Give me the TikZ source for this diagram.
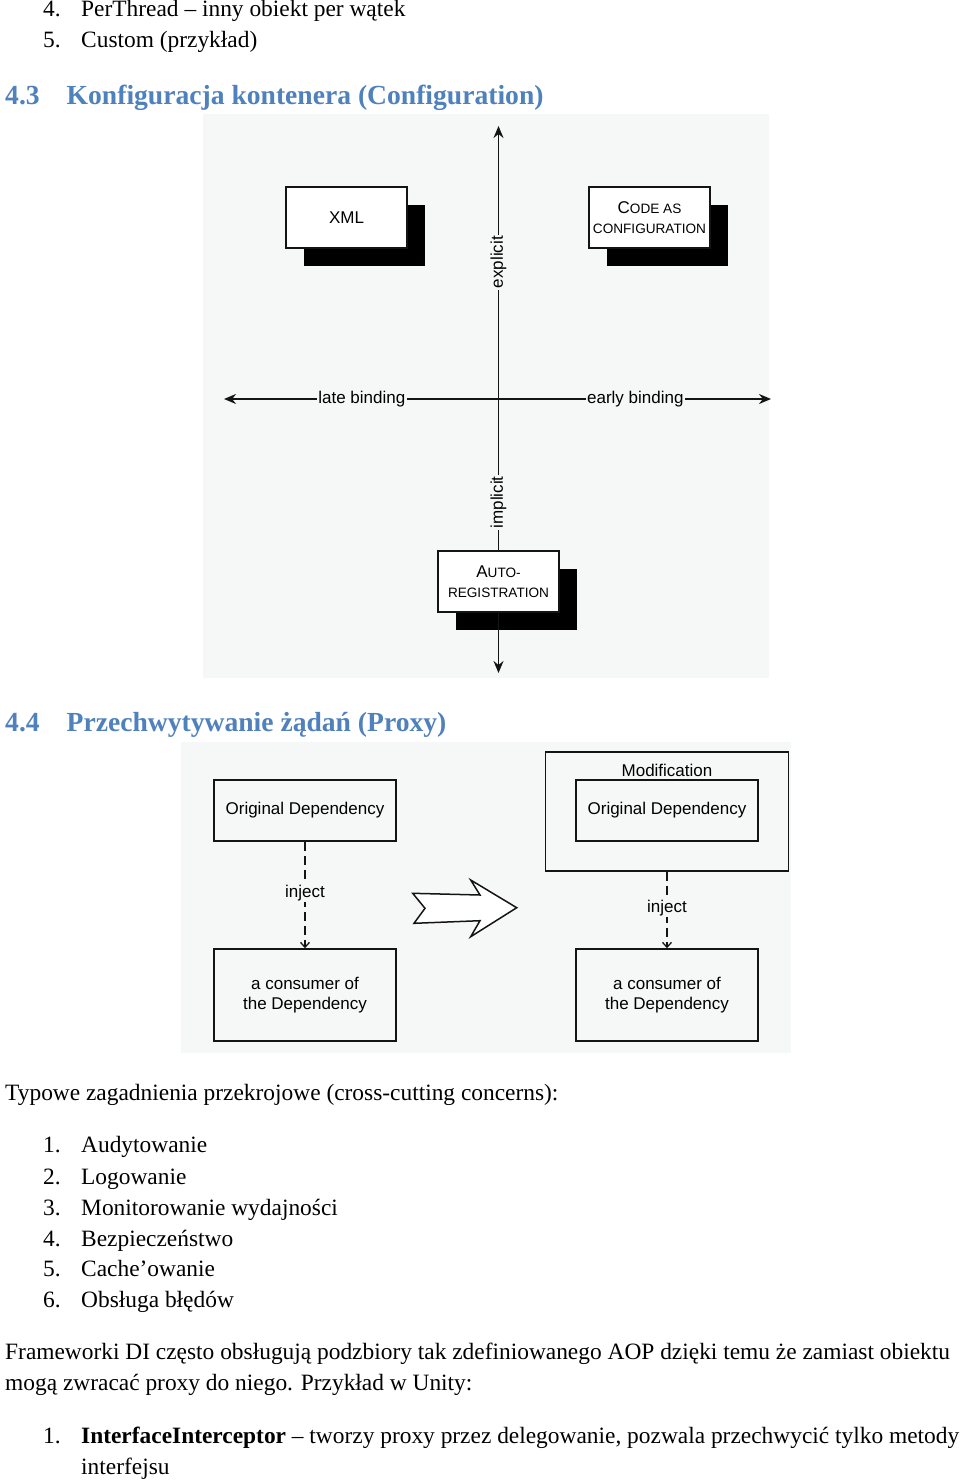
\documentclass[tikz,border=0pt]{standalone}
\usepackage{fontspec}
\setmainfont{Liberation Serif}
\newfontfamily\arial{Liberation Sans}
\usetikzlibrary{shadows,arrows.meta}
\definecolor{bg}{RGB}{246,248,247}
\definecolor{head}{RGB}{79,129,189}
\definecolor{ink}{RGB}{20,20,20}
\begin{document}
\begin{tikzpicture}[x=1pt,y=-1pt,
 body/.style={anchor=base west, inner sep=0pt, font=\fontsize{23.4}{31}\selectfont},
 heading/.style={anchor=base west, inner sep=0pt, text=head, font=\bfseries\fontsize{27.6}{32}\selectfont},
 dtext/.style={font=\arial\fontsize{17}{20}\selectfont},
 sctext/.style={font=\arial\fontsize{13.6}{20}\selectfont},
 sbox/.style={draw=ink, line width=1.6pt, fill=white, minimum width=121pt, minimum height=61pt, inner sep=0pt, align=center,
   drop shadow={shadow xshift=18pt, shadow yshift=-18pt, fill=black, opacity=1}},
 pbox/.style={draw=ink, line width=1.5pt, fill=bg, minimum width=182pt, inner sep=0pt, align=center, dtext},
 axis/.style={draw=ink, line width=1.8pt},
 tip/.style={-{Stealth[length=12pt,width=10pt]}},
 lbl/.style={fill=bg, inner sep=1.5pt, dtext},
 inj/.style={draw=ink, line width=1.3pt, dash pattern=on 9pt off 5pt, -{Straight Barb[length=5pt,width=9pt]}}
]
\useasboundingbox (0,0) rectangle (960,1482);
\fill[white] (0,0) rectangle (960,1482);

% top list
\node[body] (n4) at (43,16.7) {4.};
\node[body] (t4) at (81,16.7) {PerThread – inny obiekt per wątek};
\node[body] (n5) at (43,47.7) {5.};
\node[body] (t5) at (81,47.7) {Custom (przykład)};

\node[heading] (h43n) at (5,105) {4.3};
\node[heading] (h43) at (66.5,105) {Konfiguracja kontenera (Configuration)};

% diagram 1
\fill[bg] (203,114) rectangle (769,678);
\coordinate (vt) at (498.5,126);
\coordinate (vb) at (498.5,673);
\coordinate (hl) at (224,399);
\coordinate (hr) at (771,399);
\node[sbox, dtext] (xml) at (346.5,217.5) {XML};
\node[sbox, sctext] (code) at (649.5,217.5) {{\fontsize{17}{20}\selectfont C}ODE AS\\CONFIGURATION};
\node[sbox, sctext] (auto) at (498.5,581.5) {{\fontsize{17}{20}\selectfont A}UTO-\\REGISTRATION};
\draw[axis, tip] (auto.north) -- node[lbl, pos=0.113, rotate=90] (impl) {implicit}
  node[lbl, pos=0.679, rotate=90] (expl) {explicit} (vt);
\draw[axis, tip] (auto.south) -- (vb);
\draw[axis, {Stealth[length=12pt,width=10pt]}-{Stealth[length=12pt,width=10pt]}] (hl) --
  node[lbl, pos=0.252] (late) {late binding}
  node[lbl, pos=0.752] (early) {early binding} (hr);

\node[heading] (h44n) at (5,731.7) {4.4};
\node[heading] (h44) at (66.5,731.7) {Przechwytywanie żądań (Proxy)};

% diagram 2
\fill[bg] (181,742) rectangle (791,1053);
\node[pbox, minimum height=61pt] (od1) at (305,810.5) {Original Dependency};
\node[pbox, minimum height=92pt] (con1) at (305,995) {a consumer of\\the Dependency};
\node[pbox, minimum width=243pt, minimum height=119.3pt] (mod) at (667.2,811.4) {};
\node[dtext, inner sep=0pt] (modl) at (667,770) {Modification};
\node[pbox, minimum height=61pt] (od2) at (667,810.5) {Original Dependency};
\node[pbox, minimum height=92pt] (con2) at (667,995) {a consumer of\\the Dependency};
\draw[inj] (od1.south) -- node[lbl, pos=0.48] (inj1) {inject} (con1.north);
\draw[inj] (mod.south -| od2.south) -- node[lbl, pos=0.474] (inj2) {inject} (con2.north);
\draw[ink, line width=1.5pt, fill=white, line join=miter]
  (412.7,893.3) -- (480,895) -- (470.7,880) -- (516.7,907.7) -- (470.7,936.7)
  -- (480,920.7) -- (414,923.3) -- (425,908.3) -- cycle;

% text below
\node[body] (typ) at (5,1100.7) {Typowe zagadnienia przekrojowe (cross-cutting concerns):};
\node[body] (l1n) at (43,1152.7) {1.};
\node[body] (l1) at (81,1152.7) {Audytowanie};
\node[body] (l2n) at (43,1184) {2.};
\node[body] (l2) at (81,1184) {Logowanie};
\node[body] (l3n) at (43,1215) {3.};
\node[body] (l3) at (81,1215) {Monitorowanie wydajności};
\node[body] (l4n) at (43,1246) {4.};
\node[body] (l4) at (81,1246) {Bezpieczeństwo};
\node[body] (l5n) at (43,1276.7) {5.};
\node[body] (l5) at (81,1276.7) {Cache’owanie};
\node[body] (l6n) at (43,1307.7) {6.};
\node[body] (l6) at (81,1307.7) {Obsługa błędów};

\node[body] (fr1) at (5,1359) {Frameworki DI często obsługują podzbiory tak zdefiniowanego AOP dzięki temu że zamiast obiektu};
\node[body] (fr2) at (5,1390) {mogą zwracać proxy do niego. Przykład w Unity:};
\node[body] (i1n) at (43,1443) {1.};
\node[body] (i1) at (81,1443) {\textbf{InterfaceInterceptor} – tworzy proxy przez delegowanie, pozwala przechwycić tylko metody};
\node[body] (i1b) at (81,1474) {interfejsu};
\end{tikzpicture}
\end{document}
